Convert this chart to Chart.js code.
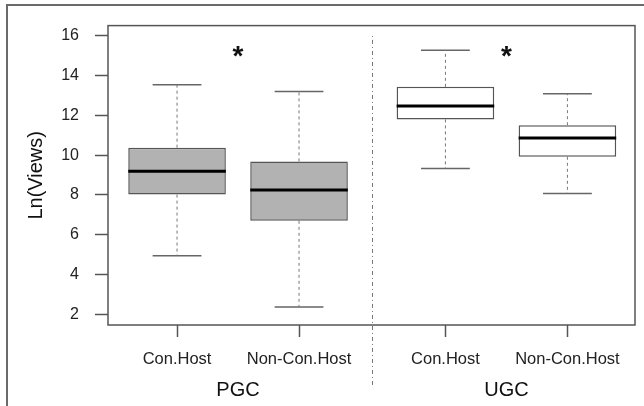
<!DOCTYPE html>
<html lang="en">
<head>
  <meta charset="UTF-8">
  <title>Ln(Views) by host type</title>
  <script src="https://cdn.jsdelivr.net/npm/chart.js"></script>
  <style>
    body {
      margin: 0;
      background-color: #fff;
      font-family: "Liberation Sans", Arial, sans-serif;
    }
    #wrap {
      position: relative;
      width: 644px;
      height: 406px;
    }
    #frame {
      position: absolute;
      left: 6px;
      top: 4px;
      right: 0;
      bottom: 0;
      border-left: 2px solid #6a6a6a;
      border-top: 2px solid #6a6a6a;
      pointer-events: none;
    }
  </style>
</head>
<body>
<div id="wrap">
  <canvas id="boxChart" width="644" height="406"></canvas>
  <div id="frame"></div>
</div>

<script>
  // box positions on the x axis, as in the original plot
  const boxPos = [1, 2, 3.2, 4.2];
  const boxLabels = ['Con.Host', 'Non-Con.Host', 'Con.Host', 'Non-Con.Host'];
  const groupNames = ['PGC', 'UGC'];
  const groupPos = [1.5, 3.7];
  const dividerPos = 2.6;

  // five-number summaries
  const lowWhisker = [4.94, 2.36, 9.33, 8.07];
  const q1 = [8.02, 6.70, 11.80, 9.92];
  const median = [9.20, 8.25, 12.47, 10.87];
  const q3 = [10.38, 9.69, 13.44, 11.51];
  const highWhisker = [13.54, 13.21, 15.28, 13.09];
  const boxFill = ['#b2b2b2', '#b2b2b2', '#ffffff', '#ffffff'];

  const yTicks = [2, 4, 6, 8, 10, 12, 14, 16];
  const starY = 14.9;

  const FONT = '"Liberation Sans", Arial, sans-serif';
  const HALF_BOX = 0.4;
  const HALF_CAP = 0.2;

  function segments(list) {
    const out = [];
    list.forEach(seg => {
      out.push(seg[0], seg[1], { x: seg[0].x, y: null });
    });
    return out;
  }

  const whiskerData = segments(boxPos.flatMap((x, i) => [
    [{ x: x, y: q3[i] }, { x: x, y: highWhisker[i] }],
    [{ x: x, y: q1[i] }, { x: x, y: lowWhisker[i] }]
  ]));
  const capData = segments(boxPos.flatMap((x, i) => [
    [{ x: x - HALF_CAP, y: highWhisker[i] }, { x: x + HALF_CAP, y: highWhisker[i] }],
    [{ x: x - HALF_CAP, y: lowWhisker[i] }, { x: x + HALF_CAP, y: lowWhisker[i] }]
  ]));
  const medianData = segments(boxPos.map((x, i) =>
    [{ x: x - HALF_BOX, y: median[i] }, { x: x + HALF_BOX, y: median[i] }]
  ));

  const lineBase = { type: 'line', pointRadius: 0, tension: 0, fill: false, spanGaps: false, xAxisID: 'x' };

  const decorations = {
    id: 'decorations',
    afterDatasetsDraw(chart) {
      const ctx = chart.ctx;
      const a = chart.chartArea;
      const xs = chart.scales.x;
      const ys = chart.scales.y;
      ctx.save();
      // plot frame
      ctx.strokeStyle = '#555';
      ctx.lineWidth = 1.5;
      ctx.strokeRect(a.left, a.top, a.right - a.left, a.bottom - a.top);
      // divider between PGC and UGC
      const dx = Math.round(xs.getPixelForValue(dividerPos)) + 0.5;
      ctx.strokeStyle = '#777';
      ctx.lineWidth = 1;
      ctx.setLineDash([1, 3, 4, 3]);
      ctx.beginPath();
      ctx.moveTo(dx, ys.getPixelForValue(16));
      ctx.lineTo(dx, ys.getPixelForValue(-1.7));
      ctx.stroke();
      ctx.setLineDash([]);
      // significance stars
      ctx.fillStyle = '#111';
      ctx.font = 'bold 28px ' + FONT;
      ctx.textAlign = 'center';
      ctx.textBaseline = 'middle';
      groupPos.forEach(g => {
        ctx.fillText('*', xs.getPixelForValue(g), ys.getPixelForValue(starY) - 1);
      });
      ctx.restore();
    }
  };

  const ctx = document.getElementById('boxChart').getContext('2d');
  new Chart(ctx, {
    data: {
      datasets: [
        {
          ...lineBase,
          data: medianData,
          borderColor: '#000',
          borderWidth: 3,
          order: 0
        },
        {
          type: 'bar',
          data: boxPos.map((x, i) => ({ x: x, y: [q1[i], q3[i]] })),
          backgroundColor: boxFill,
          borderColor: '#555',
          borderWidth: 1.5,
          borderSkipped: false,
          categoryPercentage: 1,
          barPercentage: 2 * HALF_BOX,
          xAxisID: 'x',
          order: 1
        },
        {
          ...lineBase,
          data: whiskerData,
          borderColor: '#777',
          borderWidth: 1,
          borderDash: [3, 3],
          order: 2
        },
        {
          ...lineBase,
          data: capData,
          borderColor: '#666',
          borderWidth: 1.5,
          order: 2
        }
      ]
    },
    options: {
      responsive: false,
      animation: false,
      layout: { padding: { left: 24, top: 19, right: 9, bottom: 0 } },
      plugins: {
        legend: { display: false },
        tooltip: { enabled: false }
      },
      scales: {
        x: {
          type: 'linear',
          position: 'bottom',
          weight: 0,
          offset: false,
          min: 0.434,
          max: 4.754,
          afterBuildTicks: s => { s.ticks = boxPos.map(v => ({ value: v })); },
          afterFit: s => { s.height = 45; },
          grid: { offset: false, drawOnChartArea: false, drawTicks: true, tickLength: 12, tickColor: '#555', tickWidth: 1.5 },
          border: { display: false },
          ticks: {
            autoSkip: false,
            maxRotation: 0,
            padding: 13,
            color: '#222',
            font: { family: FONT, size: 16.5 },
            callback: (v, i) => boxLabels[i]
          }
        },
        xg: {
          type: 'linear',
          position: 'bottom',
          weight: 1,
          offset: false,
          min: 0.434,
          max: 4.754,
          afterBuildTicks: s => { s.ticks = groupPos.map(v => ({ value: v })); },
          afterFit: s => { s.height = 36; },
          grid: { display: false, offset: false },
          border: { display: false },
          ticks: {
            autoSkip: false,
            maxRotation: 0,
            padding: 0,
            color: '#111',
            font: { family: FONT, size: 20 },
            callback: (v, i) => groupNames[i]
          }
        },
        y: {
          type: 'linear',
          min: 1.46,
          max: 16.52,
          afterBuildTicks: s => { s.ticks = yTicks.map(v => ({ value: v })); },
          afterFit: s => { s.width = 84; },
          grid: { drawOnChartArea: false, drawTicks: true, tickLength: 13, tickColor: '#555', tickWidth: 1.5 },
          border: { display: false },
          ticks: {
            padding: 16,
            color: '#222',
            font: { family: FONT, size: 16 },
            callback: v => String(v)
          },
          title: {
            display: true,
            text: 'Ln(Views)',
            color: '#111',
            padding: 0,
            font: { family: FONT, size: 20 }
          }
        }
      }
    },
    plugins: [decorations]
  });
</script>
</body>
</html>
